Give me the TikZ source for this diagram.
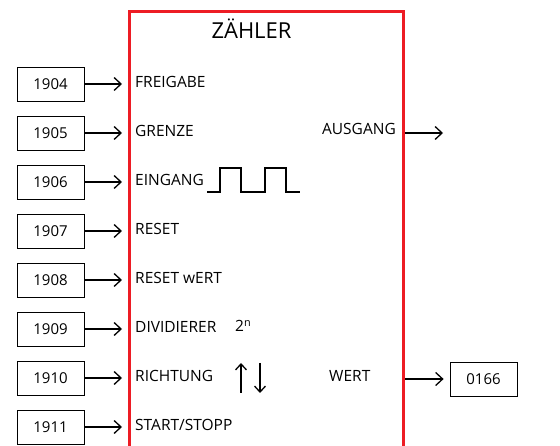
\documentclass[tikz,border=0pt]{standalone}
\usepackage{fontspec}
\setmainfont{Open Sans}
\usetikzlibrary{arrows.meta,positioning}
\tikzset{inbox/.style={draw, line width=0.8pt, minimum width=67pt, minimum height=34pt, inner sep=0pt, font=\fontsize{15}{17}\selectfont},
  lbl/.style={anchor=base west, inner sep=0pt, font=\fontsize{15.5}{17}\selectfont},
  arr/.style={draw, -{Straight Barb[length=7pt,width=13pt]}, line width=1.3pt, shorten >=13pt}}
\definecolor{blockred}{RGB}{237,28,36}

\begin{document}
\begin{tikzpicture}[x=1pt,y=-1pt]
        \useasboundingbox (0,0) rectangle (560,446);
        % block
        \draw[blockred, line width=3pt] (129,446) -- (129,12) -- (403,12) -- (403,446);
        \node (title) [anchor=base, inner sep=0pt, font=\fontsize{22}{24}\selectfont] at (251.5,39) {ZÄHLER};
        % inputs
        \node[inbox] (P1904) at (50.5,84) {1904};
        \node[lbl] (freigabe) at (135,88) {FREIGABE};
        \node[inbox] (P1905) at (50.5,133) {1905};
        \node[lbl] (grenze) at (135,137) {GRENZE};
        \node[inbox] (P1906) at (50.5,182) {1906};
        \node[lbl] (eingang) at (135,186) {EINGANG};
        \node[inbox] (P1907) at (50.5,231) {1907};
        \node[lbl] (reset) at (135,235) {RESET};
        \node[inbox] (P1908) at (50.5,280) {1908};
        \node[lbl] (resetwert) at (135,284) {RESET wERT};
        \node[inbox] (P1909) at (50.5,329) {1909};
        \node[lbl] (dividierer) at (135,333) {DIVIDIERER};
        \node[inbox] (P1910) at (50.5,378) {1910};
        \node[lbl] (richtung) at (135,382) {RICHTUNG};
        \node[inbox] (P1911) at (50.5,427) {1911};
        \node[lbl] (startstopp) at (135,431) {START/STOPP};
        \foreach \p/\l in {P1904/freigabe, P1905/grenze, P1906/eingang, P1907/reset,
            P1908/resetwert, P1909/dividierer, P1910/richtung, P1911/startstopp}
            \draw[arr] (\p.east) -- (\p.east -| \l.west);
        % outputs
        \node[lbl, anchor=base east] (ausgang) at (396,135) {AUSGANG};
        \coordinate (ausfrom) at (405,133);
        \coordinate (austo) at (443,133);
        \draw[-{Straight Barb[length=7pt,width=13pt]}, line width=1.3pt] (ausfrom) -- (austo);
        \node[lbl] (wert) at (329,382) {WERT};
        \node[inbox] (P0166) at (483.5,379) {0166};
        \coordinate (wertfrom) at (405,379);
        \draw[arr, shorten >=6pt] (wertfrom) -- (P0166.west);
        % pulse
        \draw[line width=2pt] (207,192) -- (220,192) -- (220,168) -- (241,168) -- (241,192)
            -- (265,192) -- (265,168) -- (286,168) -- (286,192) -- (300,192);
        \node[lbl] (pow) at (235,332) {2\textsuperscript{n}};
        \draw[-{Straight Barb[length=6pt,width=11pt]}, line width=1.3pt] (241,393) -- (241,363);
        \draw[-{Straight Barb[length=6pt,width=11pt]}, line width=1.3pt] (260,363) -- (260,393);
\end{tikzpicture}
\end{document}
